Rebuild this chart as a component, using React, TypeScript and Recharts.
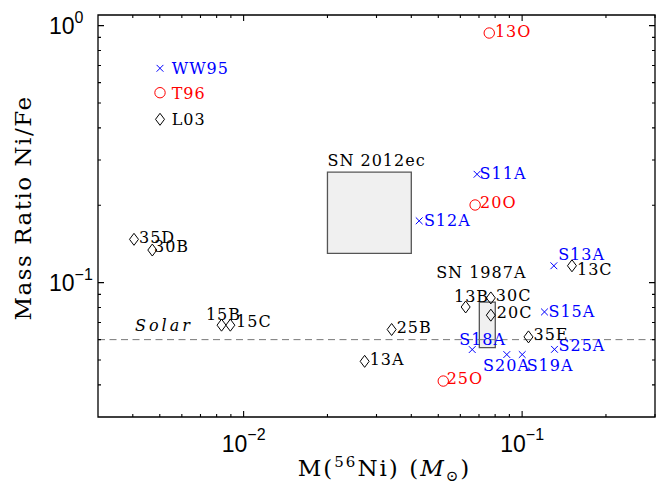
import React from "react";
import {
  ScatterChart,
  Scatter,
  XAxis,
  YAxis,
  ReferenceArea,
  ReferenceLine,
  Legend,
  Label,
} from "recharts";

// WW95 models (blue crosses)
const ww95Names = ["S11A", "S12A", "S13A", "S15A", "S18A", "S19A", "S20A", "S25A"];
const ww95Ni = [0.0689, 0.0427, 0.13, 0.1203, 0.0662, 0.1001, 0.0881, 0.1307];
const ww95Ratio = [0.264, 0.174, 0.1163, 0.0769, 0.0549, 0.0525, 0.0525, 0.055];

// T96 models (red circles)
const t96Names = ["13O", "20O", "25O"];
const t96Ni = [0.0762, 0.0678, 0.0521];
const t96Ratio = [0.936, 0.2005, 0.0414];

// L03 models (black diamonds)
const l03Names = ["35D", "30B", "15B", "15C", "25B", "13A", "13B", "30C", "20C", "35E", "13C"];
const l03Ni = [0.00404, 0.0047, 0.00833, 0.00896, 0.034, 0.0272, 0.0627, 0.0772, 0.0772, 0.1054, 0.151];
const l03Ratio = [0.1474, 0.1339, 0.0683, 0.0683, 0.0657, 0.0494, 0.0804, 0.0872, 0.0747, 0.0615, 0.1163];

// observed ranges
const sn2012ecNi = [0.02, 0.04];
const sn2012ecRatio = [0.13, 0.269];
const sn1987aNi = [0.0702, 0.0801];
const sn1987aRatio = [0.0559, 0.0839];
const solarRatio = 0.06;

const xDomain = [0.003, 0.3];
const yDomain = [0.03, 1.1];
const xTicks = [
  0.004, 0.005, 0.006, 0.007, 0.008, 0.009, 0.01, 0.02, 0.03, 0.04, 0.05, 0.06, 0.07, 0.08, 0.09,
  0.1, 0.2, 0.3,
];
const yTicks = [0.04, 0.05, 0.06, 0.07, 0.08, 0.09, 0.1, 0.2, 0.3, 0.4, 0.5, 0.6, 0.7, 0.8, 0.9, 1];
const legendOrder = ["WW95", "T96", "L03"];

const BLUE = "#0000ff";
const RED = "#ff0000";
const SERIF = "DejaVu Serif";
const SANS = "Liberation Sans";

// where each point's name sits relative to its marker: [dx, dy of text centre]
const defaultOffset: [number, number] = [5, -2.5];
const labelOffsets: Record<string, [number, number]> = {
  S11A: [2.5, -1.3],
  S12A: [4.7, -1],
  S13A: [4.3, -11.7],
  S15A: [4, -0.7],
  S18A: [-13, -10.3],
  S19A: [4.4, 10.2],
  S20A: [-23.7, 10.2],
  S25A: [4, -4],
  "13O": [5.7, -2.4],
  "25O": [3.4, -2.7],
  "13C": [5, 3.3],
  "20C": [6, -3.5],
  "13B": [-11.7, -10.7],
  "15B": [-15.6, -11],
  "15C": [5.7, -4],
  "30B": [1.7, -4],
};

const zip = (names: string[], xs: number[], ys: number[]) =>
  names.map((name, i) => ({ name, x: xs[i], y: ys[i] }));

const ww95 = zip(ww95Names, ww95Ni, ww95Ratio);
const t96 = zip(t96Names, t96Ni, t96Ratio);
const l03 = zip(l03Names, l03Ni, l03Ratio);

type Kind = "cross" | "circle" | "diamond";

function Marker({ kind, cx, cy, color }: { kind: Kind; cx: number; cy: number; color: string }) {
  if (kind === "cross") {
    const s = 3.4;
    return (
      <g stroke={color} strokeWidth={1}>
        <line x1={cx - s} y1={cy - s} x2={cx + s} y2={cy + s} />
        <line x1={cx - s} y1={cy + s} x2={cx + s} y2={cy - s} />
      </g>
    );
  }
  if (kind === "circle") {
    return <circle cx={cx} cy={cy} r={5.2} fill="none" stroke={color} strokeWidth={1} />;
  }
  const w = 4.5;
  const h = 6;
  return (
    <path
      d={`M${cx},${cy - h}L${cx + w},${cy}L${cx},${cy + h}L${cx - w},${cy}Z`}
      fill="none"
      stroke={color}
      strokeWidth={1}
    />
  );
}

const makeShape = (kind: Kind, color: string) => (props: any) => {
  const { cx, cy, payload } = props;
  const [dx, dy] = labelOffsets[payload.name] ?? defaultOffset;
  return (
    <g>
      <Marker kind={kind} cx={cx} cy={cy} color={color} />
      <text x={cx + dx} y={cy + dy + 6} fill={color} fontFamily={SERIF} fontSize={16} letterSpacing={1}>
        {payload.name}
      </text>
    </g>
  );
};

const isMajor = (v: number) => Math.abs(Math.log10(v) - Math.round(Math.log10(v))) < 1e-6;
const expText = (v: number) => {
  const e = Math.round(Math.log10(v));
  return e < 0 ? `\u2212${-e}` : `${e}`;
};

// tick labels only; the tick marks are drawn inward by the reference lines below
const XTick = (props: any) => {
  const { x, payload } = props;
  const v = payload.value;
  if (!isMajor(v)) return <g />;
  return (
    <text x={x} y={452} textAnchor="middle" fontFamily={SANS} fontSize={23} fill="#000">
      10
      <tspan dy={-12} fontSize={16}>
        {expText(v)}
      </tspan>
    </text>
  );
};

const YTick = (props: any) => {
  const { y, payload } = props;
  const v = payload.value;
  if (!isMajor(v)) return <g />;
  return (
    <text x={49} y={y + 8.5} fontFamily={SANS} fontSize={23} fill="#000">
      10
      <tspan dy={-11} fontSize={16}>
        {expText(v)}
      </tspan>
    </text>
  );
};

// short inward tick marks at both ends of a full-height / full-width reference line
const xTickMark = (v: number) => (p: any) => {
  const len = isMajor(v) ? 6 : 3;
  const x = p.x1;
  const top = Math.min(p.y1, p.y2);
  const bottom = Math.max(p.y1, p.y2);
  return (
    <path d={`M${x},${bottom}V${bottom - len}M${x},${top}V${top + len}`} stroke="#000" strokeWidth={1.1} fill="none" />
  );
};

const yTickMark = (v: number) => (p: any) => {
  const len = isMajor(v) ? 6 : 3;
  const y = p.y1;
  const left = Math.min(p.x1, p.x2);
  const right = Math.max(p.x1, p.x2);
  return (
    <path d={`M${left},${y}H${left + len}M${right},${y}H${right - len}`} stroke="#000" strokeWidth={1.1} fill="none" />
  );
};

const kinds: Record<string, { kind: Kind; color: string }> = {
  WW95: { kind: "cross", color: BLUE },
  T96: { kind: "circle", color: RED },
  L03: { kind: "diamond", color: "#000" },
};

const renderLegend = (props: any) => {
  const payload = [...(props.payload ?? [])].sort(
    (a: any, b: any) => legendOrder.indexOf(a.value) - legendOrder.indexOf(b.value)
  );
  return (
    <svg width={100} height={76}>
      {payload.map((entry: any, i: number) => {
        const k = kinds[entry.value];
        const cy = [12.3, 36.7, 63.3][i];
        return (
          <g key={entry.value}>
            <Marker kind={k.kind} cx={10} cy={cy} color={k.color} />
            <text x={21.7} y={cy + 6} fill={k.color} fontFamily={SERIF} fontSize={16} letterSpacing={1}>
              {entry.value}
            </text>
          </g>
        );
      })}
    </svg>
  );
};

const boxLabel = (text: string, dx: number, dy: number, center: boolean) => (props: any) => {
  const vb = props.viewBox;
  return (
    <text
      x={center ? vb.x + vb.width / 2 + dx : vb.x + dx}
      y={vb.y + dy}
      textAnchor={center ? "middle" : "start"}
      fontFamily={SERIF}
      fontSize={16}
      letterSpacing={1}
      fill="#000"
    >
      {text}
    </text>
  );
};

const solarLabel = (props: any) => {
  const vb = props.viewBox;
  return (
    <text x={vb.x + 37} y={vb.y - 9} fontFamily={SERIF} fontStyle="italic" fontSize={16} letterSpacing={3} fill="#000">
      Solar
    </text>
  );
};

const xLabel = (props: any) => {
  const vb = props.viewBox;
  return (
    <text
      x={vb.x + vb.width / 2 + 8}
      y={476}
      textAnchor="middle"
      fontFamily={SERIF}
      fontSize={23}
      letterSpacing={2}
      fill="#000"
    >
      M(
      <tspan dy={-9} fontSize={15}>
        56
      </tspan>
      <tspan dy={9}>Ni) (</tspan>
      <tspan fontStyle="italic">M</tspan>
      <tspan dy={5} fontSize={15}>
        {"\u2299"}
      </tspan>
      <tspan dy={-5}>)</tspan>
    </text>
  );
};

const yLabel = () => (
  <text
    x={31}
    y={208}
    transform="rotate(-90 31 208)"
    textAnchor="middle"
    fontFamily={SERIF}
    fontSize={23}
    letterSpacing={1.5}
    fill="#000"
  >
    Mass Ratio Ni/Fe
  </text>
);

export default function App() {
  return (
    <div style={{ position: "absolute", left: 0, top: 0, background: "#fff" }}>
      <ScatterChart width={668} height={489} margin={{ top: 15, right: 13, bottom: 22, left: 38 }}>
        <XAxis
          type="number"
          dataKey="x"
          scale="log"
          domain={xDomain}
          allowDataOverflow
          ticks={xTicks}
          interval={0}
          tick={XTick}
          tickLine={false}
          axisLine={false}
          height={50}
        >
          <Label content={xLabel} />
        </XAxis>
        <YAxis
          type="number"
          dataKey="y"
          scale="log"
          domain={yDomain}
          allowDataOverflow
          ticks={yTicks}
          interval={0}
          tick={YTick}
          tickLine={false}
          axisLine={false}
          width={60}
        >
          <Label content={yLabel} />
        </YAxis>
        <ReferenceArea
          x1={sn2012ecNi[0]}
          x2={sn2012ecNi[1]}
          y1={sn2012ecRatio[0]}
          y2={sn2012ecRatio[1]}
          fill="#f0f0f0"
          fillOpacity={1}
          stroke="#555"
          strokeWidth={1.3}
          label={boxLabel("SN 2012ec", 0, -6, false)}
        />
        <ReferenceArea
          x1={sn1987aNi[0]}
          x2={sn1987aNi[1]}
          y1={sn1987aRatio[0]}
          y2={sn1987aRatio[1]}
          fill="#f0f0f0"
          fillOpacity={1}
          stroke="#555"
          strokeWidth={1.3}
          label={boxLabel("SN 1987A", -6, -24, true)}
        />
        <ReferenceLine y={solarRatio} stroke="#777" strokeDasharray="7 4.5" strokeWidth={1} label={solarLabel} />
        {xTicks.map((t) => (
          <ReferenceLine key={`xt${t}`} x={t} ifOverflow="visible" shape={xTickMark(t)} />
        ))}
        {yTicks.map((t) => (
          <ReferenceLine key={`yt${t}`} y={t} ifOverflow="visible" shape={yTickMark(t)} />
        ))}
        <ReferenceArea
          x1={xDomain[0]}
          x2={xDomain[1]}
          y1={yDomain[0]}
          y2={yDomain[1]}
          fill="none"
          fillOpacity={0}
          stroke="#000"
          strokeWidth={1.3}
          ifOverflow="visible"
        />
        <Scatter name="WW95" data={ww95} fill={BLUE} shape={makeShape("cross", BLUE)} isAnimationActive={false} />
        <Scatter name="T96" data={t96} fill={RED} shape={makeShape("circle", RED)} isAnimationActive={false} />
        <Scatter name="L03" data={l03} fill="#000" shape={makeShape("diamond", "#000")} isAnimationActive={false} />
        <Legend
          layout="vertical"
          align="center"
          verticalAlign="middle"
          content={renderLegend}
          wrapperStyle={{ left: 150, top: 56, width: 100, height: 76 }}
        />
      </ScatterChart>
    </div>
  );
}
